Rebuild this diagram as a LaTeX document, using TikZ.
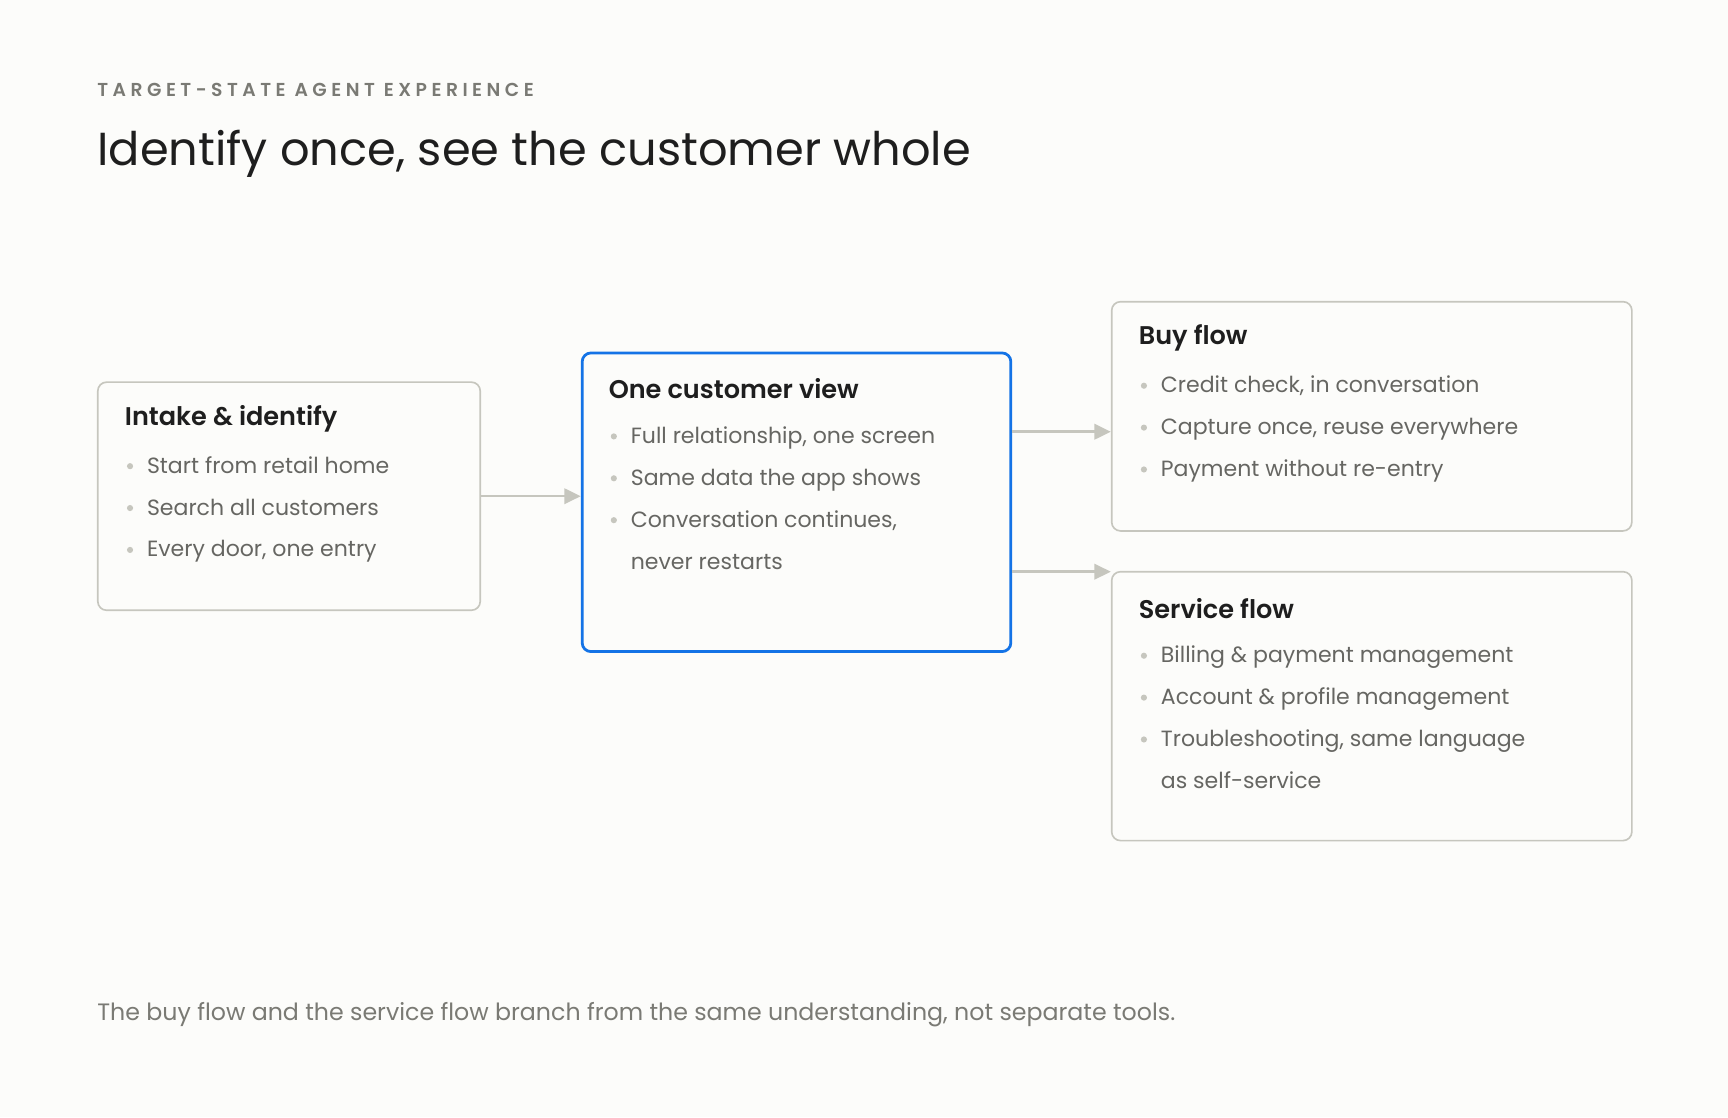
\documentclass[tikz,border=0pt]{standalone}
\usepackage{fontspec}
\setmainfont{Poppins}[BoldFont={Poppins SemiBold}]
\newfontfamily\kickerfont{Poppins SemiBold}[LetterSpace=24]
\usetikzlibrary{arrows.meta,positioning,calc}
\definecolor{paper}{HTML}{FCFCFA}
\definecolor{rim}{HTML}{C6C6BE}
\definecolor{focusblue}{HTML}{1473E6}
\definecolor{ink}{HTML}{1E1E1E}
\definecolor{muted}{HTML}{666662}
\definecolor{kicker}{HTML}{7A7A74}

\begin{document}
\begin{tikzpicture}[
  x=0.5pt, y=-0.5pt,
  card/.style={draw=rim, line width=0.75pt, rounded corners=4pt,
    anchor=north west, inner sep=0pt},
  focus/.style={card, draw=focusblue, line width=1.25pt},
  head/.style={anchor=west, inner sep=0pt, text=ink,
    font=\fontsize{11.6}{14}\selectfont\bfseries},
  item/.style={anchor=north west, inner sep=0pt, text=muted, align=left,
    font=\fontsize{10}{19}\selectfont},
  dot/.style={circle, fill=rim, inner sep=0pt, minimum size=2.8pt},
  arr/.style={-{Triangle[length=7.5pt,width=7pt]}, draw=rim, fill=rim,
    line width=1.15pt},
  >=Triangle
]
  \fill[paper] (0,0) rectangle (1568,1014);
  \useasboundingbox (0,0) rectangle (1568,1014);

  % heading
  \node[anchor=base west, inner sep=0pt, text=kicker,
    font=\kickerfont\fontsize{8.5}{10}\selectfont] (kicker) at (88,88)
    {TARGET-STATE AGENT EXPERIENCE};
  \node[anchor=base west, inner sep=0pt, text=ink,
    font=\fontsize{21}{26}\selectfont] (title) at (88,150)
    {Identify once, see the customer whole};

  % intake (left)
  \node[card, minimum width=173.5pt, minimum height=103.5pt] (intake)
    at (88,346) {};
  \node[head] (intakehead) at ($(intake.north west)+(12.5pt,-17pt)$)
    {Intake \& identify};
  \foreach \txt [count=\i] in {Start from retail home,
      Search all customers, {Every door, one entry}} {
    \node[dot] (intake-dot-\i) at
      ($(intake.north west)+(15pt,{-38.5pt-19pt*(\i-1)})$) {};
    \node[item] (intake-\i) at
      ($(intake.north west)+(22.5pt,{-28.2pt-19pt*(\i-1)})$) {\strut\txt};
  }

  % one customer view (centre)
  \node[focus, minimum width=194.5pt, minimum height=135.5pt] (view)
    at (527,319) {};
  \node[head] (viewhead) at ($(view.north west)+(12.5pt,-17pt)$)
    {One customer view};
  \foreach \txt [count=\i] in {{Full relationship, one screen},
      Same data the app shows, {Conversation continues,\\never restarts}} {
    \node[dot] (view-dot-\i) at
      ($(view.north west)+(15pt,{-38.5pt-19pt*(\i-1)})$) {};
    \node[item] (view-\i) at
      ($(view.north west)+(22.5pt,{-28.2pt-19pt*(\i-1)})$) {\strut\txt};
  }

  % buy flow (top right)
  \node[card, minimum width=236pt, minimum height=104pt] (buy)
    at (1008,273) {};
  \node[head] (buyhead) at ($(buy.north west)+(12.5pt,-17pt)$)
    {Buy flow};
  \foreach \txt [count=\i] in {{Credit check, in conversation},
      {Capture once, reuse everywhere}, Payment without re-entry} {
    \node[dot] (buy-dot-\i) at
      ($(buy.north west)+(15pt,{-38.5pt-19pt*(\i-1)})$) {};
    \node[item] (buy-\i) at
      ($(buy.north west)+(22.5pt,{-28.2pt-19pt*(\i-1)})$) {\strut\txt};
  }

  % service flow (bottom right)
  \node[card, minimum width=236pt, minimum height=122pt] (service)
    at (1008,518) {};
  \node[head] (servicehead) at ($(service.north west)+(12.5pt,-17pt)$)
    {Service flow};
  \foreach \txt [count=\i] in {Billing \& payment management,
      Account \& profile management,
      {Troubleshooting, same language\\as self-service}} {
    \node[dot] (service-dot-\i) at
      ($(service.north west)+(15pt,{-38.5pt-19pt*(\i-1)})$) {};
    \node[item] (service-\i) at
      ($(service.north west)+(22.5pt,{-28.2pt-19pt*(\i-1)})$) {\strut\txt};
  }

  % connectors
  \draw[arr] (intake.east) -- (intake.east -| view.west);
  \coordinate (tobuy) at ($(view.east)+(0,32pt)$);
  \coordinate (toservice) at ($(view.east)+(0,-31.5pt)$);
  \draw[arr] (tobuy) -- (tobuy -| buy.west);
  \draw[arr] (toservice) -- (toservice -| service.west);

  % footnote
  \node[anchor=base west, inner sep=0pt, text=kicker,
    font=\fontsize{10.75}{12}\selectfont] (note) at (88,926)
    {The buy flow and the service flow branch from the same understanding, not separate tools.};
\end{tikzpicture}
\end{document}
